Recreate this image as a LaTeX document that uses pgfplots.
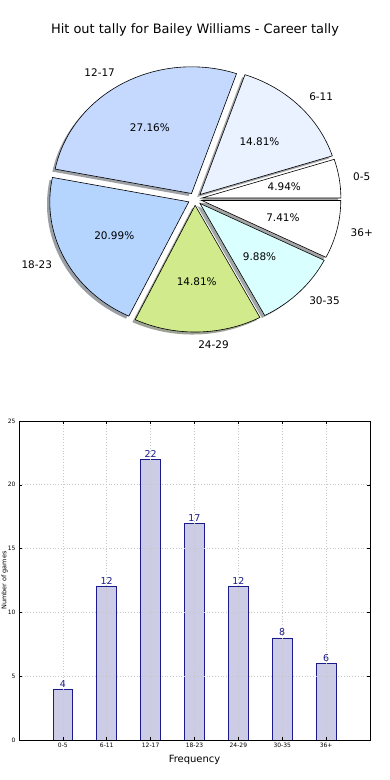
\documentclass[border=0pt]{standalone}
\usepackage{pgfplots}
\pgfplotsset{compat=1.18}
\usepackage{pgfplotstable}
\usepackage{fontspec}
\setmainfont{DejaVu Sans}
\pgfkeys{/pgf/number format/assume math mode=true}
\definecolor{pc0}{RGB}{255,255,255}
\definecolor{pc1}{RGB}{234,241,255}
\definecolor{pc2}{RGB}{197,217,255}
\definecolor{pc3}{RGB}{181,213,255}
\definecolor{pc4}{RGB}{208,234,140}
\definecolor{pc5}{RGB}{218,255,255}
\definecolor{pc6}{RGB}{255,255,255}
\definecolor{barfill}{RGB}{204,204,230}
\definecolor{navy}{RGB}{26,26,140}

\pgfplotstableread{
lab val
0-5 4
6-11 12
12-17 22
18-23 17
24-29 12
30-35 8
36+ 6
}\tally

\begin{document}
\begin{tikzpicture}
\useasboundingbox (0,0) rectangle (390bp,780bp);
\def\tot{0}
\pgfplotsforeachungrouped \i in {0,...,6}{%
  \pgfplotstablegetelem{\i}{val}\of\tally
  \pgfmathsetmacro{\tot}{\tot+\pgfplotsretval}}
\def\cum{0}
\pgfplotsforeachungrouped \i in {0,...,6}{%
  \pgfplotstablegetelem{\i}{val}\of\tally
  \let\v\pgfplotsretval
  \pgfmathsetmacro{\pp}{100*\v/\tot}%
  \expandafter\xdef\csname pp\i\endcsname{\pp}%
  \expandafter\xdef\csname pa\i\endcsname{\cum}%
  \pgfmathsetmacro{\cumb}{\cum+360*\v/\tot}%
  \pgfmathsetmacro{\pmid}{(\cum+\cumb)/2}%
  \expandafter\xdef\csname pm\i\endcsname{\pmid}%
  \expandafter\xdef\csname pb\i\endcsname{\cumb}%
  \pgfmathparse{cos(\pmid)}%
  \ifdim\pgfmathresult pt>0pt \expandafter\xdef\csname pn\i\endcsname{west}\else\expandafter\xdef\csname pn\i\endcsname{east}\fi
  \pgfplotstablegetelem{\i}{lab}\of\tally
  \expandafter\xdef\csname pl\i\endcsname{\pgfplotsretval}%
  \let\cum\cumb
}

\node[font=\fontsize{13}{15}\selectfont] at (195bp,750bp) {Hit out tally for Bailey Williams - Career tally};

\begin{axis}[at={(195bp,581bp)}, anchor=center, hide axis, scale only axis, clip=false,
  width=278bp, height=253bp, xmin=-1, xmax=1, ymin=-1, ymax=1]
\pgfplotsinvokeforeach{0,...,6}{%
  \fill[fill=pc#1!30!black, opacity=0.5]
    ([shift={(\csname pm#1\endcsname:6.95bp and 6.335bp)}, xshift=-2.8bp, yshift=-2.5bp]axis cs:0,0)
    -- ++(\csname pa#1\endcsname:139bp and 126.7bp)
    arc[start angle=\csname pa#1\endcsname, end angle=\csname pb#1\endcsname, x radius=139bp, y radius=126.7bp] -- cycle;
}
\pgfplotsinvokeforeach{0,...,6}{%
  \filldraw[fill=pc#1, draw=black, line width=0.6bp]
    ([shift={(\csname pm#1\endcsname:6.95bp and 6.335bp)}]axis cs:0,0)
    -- ++(\csname pa#1\endcsname:139bp and 126.7bp)
    arc[start angle=\csname pa#1\endcsname, end angle=\csname pb#1\endcsname, x radius=139bp, y radius=126.7bp] -- cycle;
  \node[font=\fontsize{10.5}{12}\selectfont]
    at ([shift={(\csname pm#1\endcsname:90.35bp and 82.36bp)}]axis cs:0,0)
    {\pgfmathprintnumber[fixed,fixed zerofill,precision=2,assume math mode=true]{\csname pp#1\endcsname}\%};
  \node[font=\fontsize{10.5}{12}\selectfont, anchor=\csname pn#1\endcsname, inner sep=0pt]
    at ([shift={(\csname pm#1\endcsname:159.85bp and 145.7bp)}]axis cs:0,0)
    {\csname pl#1\endcsname};
}
\end{axis}

\begin{axis}[at={(19bp,40bp)}, anchor=south west, scale only axis,
  width=351bp, height=319bp,
  xmin=-1, xmax=7, ymin=0, ymax=25,
  xtick={0,...,6}, xticklabels from table={\tally}{lab},
  ytick={0,5,...,25},
  ybar, bar width=0.45,
  grid=major,
  grid style={black!22, line width=0.7bp, dash pattern=on 1bp off 1.8bp},
  axis on top,
  tick align=inside, major tick length=3bp,
  tick style={black, line width=0.5bp},
  axis line style={line width=0.8bp},
  ticklabel style={font=\fontsize{6}{7}\selectfont},
  /pgf/number format/assume math mode=true,
  xlabel={Frequency},
  ylabel={Number of games},
  xlabel style={font=\fontsize{10}{12}\selectfont},
  ylabel style={font=\fontsize{6.5}{8}\selectfont, at={(axis description cs:-0.036,0.5)}, anchor=base, inner sep=0pt},
  nodes near coords,
  every node near coord/.append style={font=\fontsize{9.5}{11}\selectfont, text=navy, inner sep=1.5bp},
]
\addplot[fill=barfill, draw=navy, line width=0.8bp] table[x expr=\coordindex, y=val]{\tally};
\end{axis}
\end{tikzpicture}
\end{document}
